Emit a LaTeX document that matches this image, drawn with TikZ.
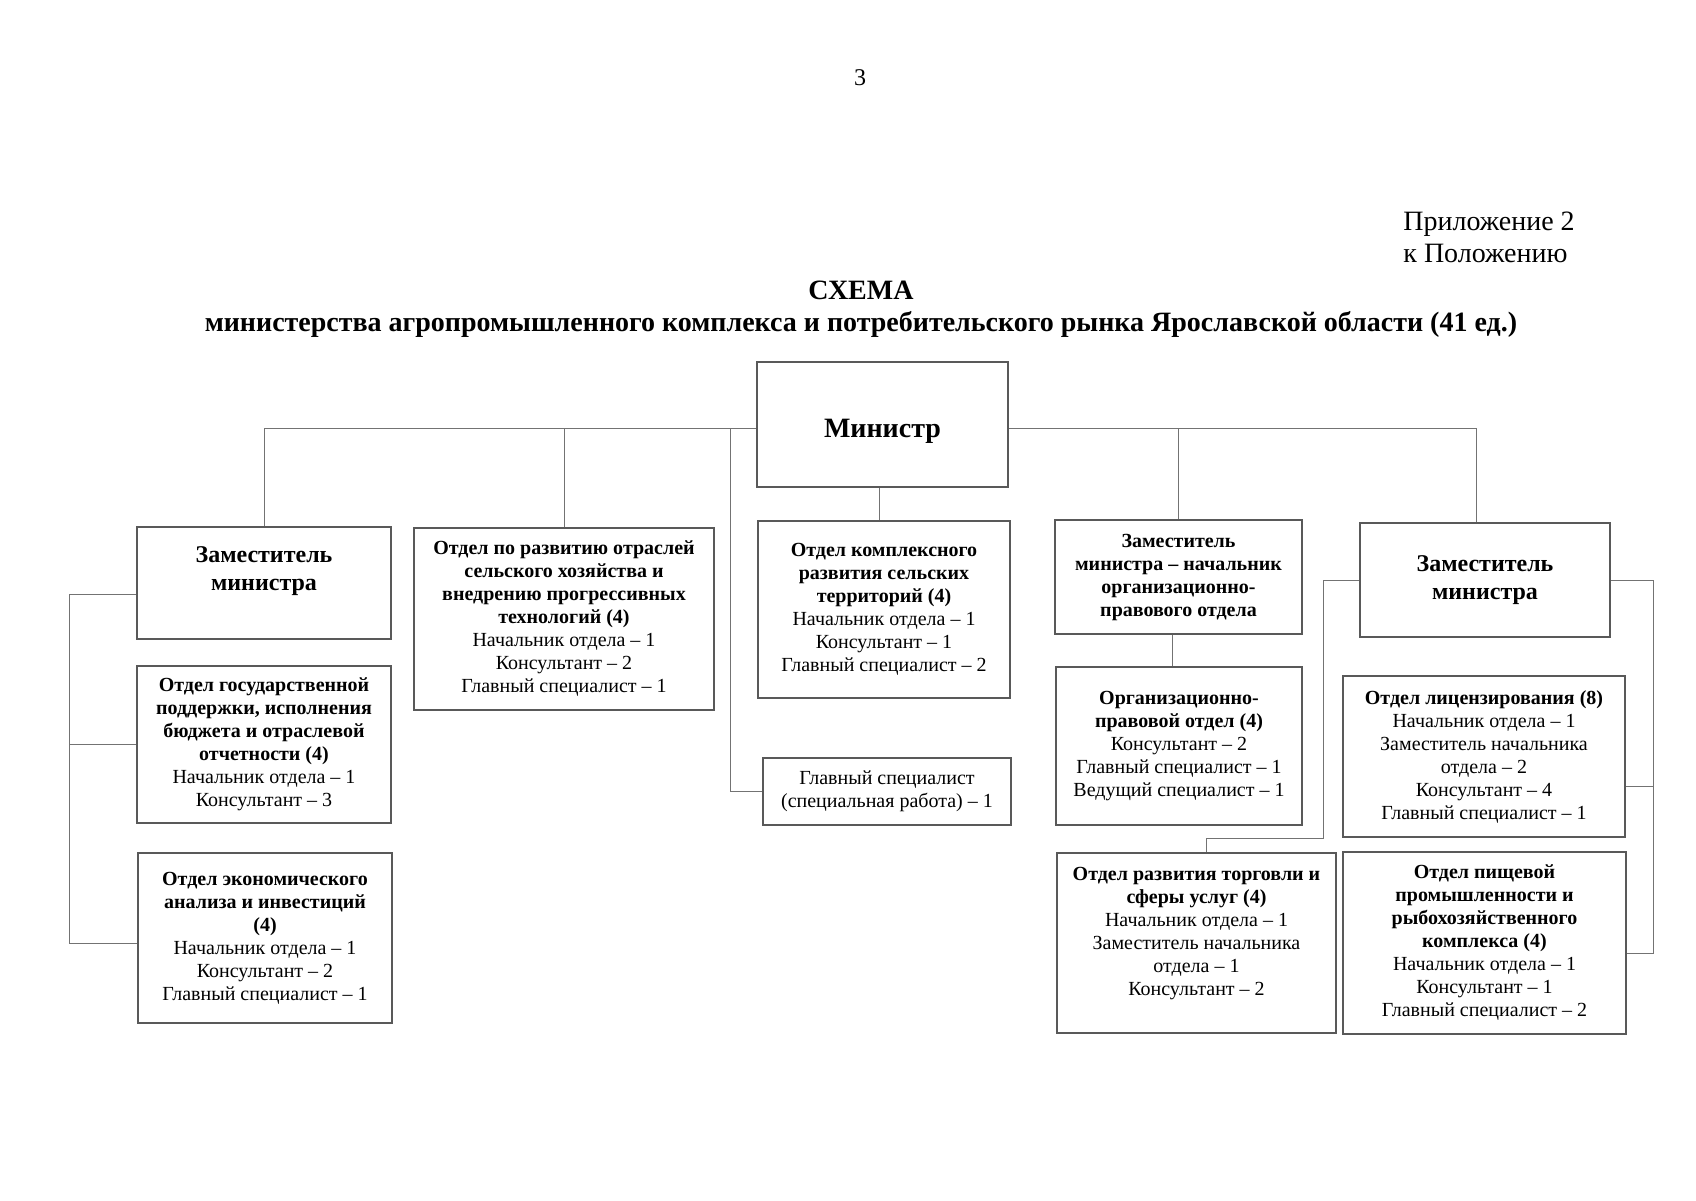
\documentclass[tikz,border=0pt]{standalone}
\usepackage{fontspec}
\setmainfont{Liberation Serif}
\usepackage{xcolor}
\usepackage{tikz}
\usetikzlibrary{positioning, calc}

\begin{document}
\begin{tikzpicture}[x=0.5pt, y=-0.5pt,
    unit/.style={rectangle, draw=black!65, line width=0.9pt, align=center, inner sep=2pt, font=\fontsize{10pt}{11.5pt}\selectfont},
    chief/.style={unit, font=\bfseries\fontsize{12pt}{14pt}\selectfont},
    link/.style={draw=black!55, line width=0.5pt}
]
\useasboundingbox (0,0) rectangle (1696,1200);
\node (page) at (860,78) {\fontsize{12pt}{14pt}\selectfont 3};
\node (annex) at (1403,212) [anchor=north west, align=left, inner sep=0pt, font=\fontsize{14pt}{16pt}\selectfont] {Приложение 2\\к Положению};
\node (title) at (861,309) [align=center, font=\bfseries\fontsize{14pt}{16pt}\selectfont] {СХЕМА\\министерства агропромышленного комплекса и потребительского рынка Ярославской области (41 ед.)};
\node (min) at (882.5,424.5) [unit, minimum width=125.5pt, minimum height=62.5pt, text height=15.5pt, text depth=3pt, font=\bfseries\fontsize{14pt}{16pt}\selectfont] {Министр};
\node (zamA) at (264,583) [chief, minimum width=127pt, minimum height=56pt] {Заместитель\\министра\\\mbox{}};
\node (gos) at (264,744.5) [unit, minimum width=127pt, minimum height=78.5pt] {\textbf{Отдел государственной}\\\textbf{поддержки, исполнения}\\\textbf{бюджета и отраслевой}\\\textbf{отчетности (4)}\\Начальник отдела – 1\\Консультант – 3};
\node (ekon) at (265,938) [unit, minimum width=127pt, minimum height=85pt] {\textbf{Отдел экономического}\\\textbf{анализа и инвестиций}\\\textbf{(4)}\\Начальник отдела – 1\\Консультант – 2\\Главный специалист – 1};
\node (agro) at (564,619) [unit, minimum width=150pt, minimum height=91pt] {\textbf{Отдел по развитию отраслей}\\\textbf{сельского хозяйства и}\\\textbf{внедрению прогрессивных}\\\textbf{технологий (4)}\\Начальник отдела – 1\\Консультант – 2\\Главный специалист – 1};
\node (terr) at (884,609.5) [unit, minimum width=126pt, minimum height=88.5pt] {\textbf{Отдел комплексного}\\\textbf{развития сельских}\\\textbf{территорий (4)}\\Начальник отдела – 1\\Консультант – 1\\Главный специалист – 2};
\node (glav) at (887,791.5) [unit, minimum width=124pt, minimum height=33.5pt] {Главный специалист\\(специальная работа) – 1};
\node (zamB) at (1178.5,577) [unit, minimum width=123.5pt, minimum height=57pt, font=\bfseries\fontsize{10pt}{11.5pt}\selectfont] {Заместитель\\министра – начальник\\организационно-\\правового отдела};
\node (orgprav) at (1179,746) [unit, minimum width=123pt, minimum height=79pt] {\textbf{Организационно-}\\\textbf{правовой отдел (4)}\\Консультант – 2\\Главный специалист – 1\\Ведущий специалист – 1};
\node (torg) at (1196.5,943) [unit, minimum width=139.5pt, minimum height=90pt] {\textbf{Отдел развития торговли и}\\\textbf{сферы услуг (4)}\\Начальник отдела – 1\\Заместитель начальника\\отдела – 1\\Консультант – 2\\\mbox{}};
\node (zamC) at (1485,580) [chief, minimum width=125pt, minimum height=57pt] {Заместитель\\министра};
\node (licenz) at (1484,756.5) [unit, minimum width=141pt, minimum height=80.5pt] {\textbf{Отдел лицензирования (8)}\\Начальник отдела – 1\\Заместитель начальника\\отдела – 2\\Консультант – 4\\Главный специалист – 1};
\node (pishch) at (1484.5,943) [unit, minimum width=141.5pt, minimum height=91pt] {\textbf{Отдел пищевой}\\\textbf{промышленности и}\\\textbf{рыбохозяйственного}\\\textbf{комплекса (4)}\\Начальник отдела – 1\\Консультант – 1\\Главный специалист – 2};
% minister bus
\draw[link] ([yshift=-2pt]min.west) -| (zamA.north);
\draw[link] (agro.north) -- (agro.north |- 0,428);
\draw[link] ([xshift=-13pt, yshift=-2pt]min.west) |- (glav.west);
\draw[link] ([yshift=-2pt]min.east) -| ([xshift=-4.5pt]zamC.north);
\draw[link] (zamB.north) -- (zamB.north |- 0,428);
\draw[link] ([xshift=-1.5pt]min.south) -- ([xshift=-1.5pt]min.south |- terr.north);
\draw[link] ([xshift=-3pt]zamB.south) -- ([xshift=-3pt]zamB.south |- orgprav.north);
% deputies
\draw[link] ([yshift=-5.5pt]zamA.west) -- ++(-33.5pt,0) coordinate (spineA) |- ([yshift=-2.5pt]ekon.west);
\draw[link] (spineA |- gos.west) -- (gos.west);
\coordinate (torgBend) at (1323,838);
\draw[link] (zamC.west) -| (torgBend) -| ([xshift=4.75pt]torg.north);
\draw[link] (zamC.east) -- ++(21.5pt,0) coordinate (spineC) |- ([yshift=-5pt]pishch.east);
\draw[link] (spineC |- 0,786) -- (licenz.east |- 0,786);
\end{tikzpicture}
\end{document}
